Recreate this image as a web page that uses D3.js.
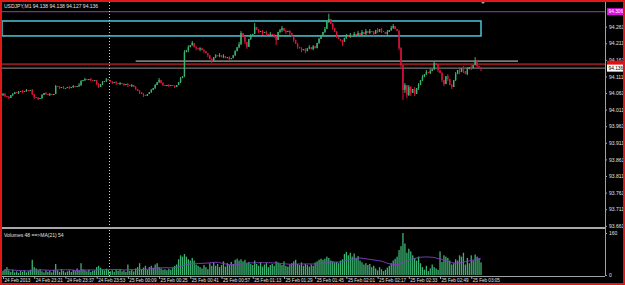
<!DOCTYPE html>
<html>
<head>
<meta charset="utf-8">
<script src="https://cdn.jsdelivr.net/npm/d3@7"></script>
<style>
  body { margin: 0; background: #000; }
  svg { display: block; font-family: "Liberation Sans", Arial, sans-serif; }
  .axis text { fill: #e0e0e0; font-size: 5px; }
  .axis path, .axis line { stroke: #a0a0a0; }
  .taxis text { font-size: 4.6px; }
</style>
</head>
<body>
<svg id="chart" width="625" height="285"></svg>
<script>
// USDJPY M1, one bar per minute from 24 Feb 23:05
const startTime = new Date(2013, 1, 24, 23, 5);

const closes = [
  94.058, 94.052, 94.049, 94.046, 94.055, 94.058, 94.064, 94.061, 94.064, 94.067,
  94.064, 94.067, 94.070, 94.067, 94.070, 94.058, 94.049, 94.046, 94.043, 94.046,
  94.055, 94.061, 94.058, 94.055, 94.058, 94.055, 94.058, 94.082, 94.079, 94.076,
  94.079, 94.076, 94.076, 94.079, 94.076, 94.079, 94.082, 94.079, 94.082, 94.085,
  94.097, 94.100, 94.103, 94.100, 94.103, 94.100, 94.097, 94.100, 94.088, 94.079,
  94.088, 94.094, 94.097, 94.103, 94.100, 94.094, 94.091, 94.094, 94.091, 94.088,
  94.091, 94.088, 94.085, 94.088, 94.085, 94.082, 94.085, 94.079, 94.073, 94.067,
  94.064, 94.058, 94.055, 94.052, 94.058, 94.064, 94.070, 94.076, 94.085, 94.094,
  94.100, 94.091, 94.085, 94.082, 94.085, 94.082, 94.085, 94.082, 94.079, 94.085,
  94.094, 94.106, 94.112, 94.184, 94.190, 94.199, 94.205, 94.212, 94.199, 94.196,
  94.193, 94.196, 94.190, 94.187, 94.181, 94.175, 94.163, 94.157, 94.169, 94.175,
  94.172, 94.175, 94.169, 94.172, 94.166, 94.169, 94.163, 94.166, 94.175, 94.187,
  94.199, 94.208, 94.242, 94.230, 94.215, 94.200, 94.224, 94.236, 94.239, 94.260,
  94.251, 94.245, 94.248, 94.242, 94.245, 94.239, 94.236, 94.239, 94.236, 94.233,
  94.221, 94.245, 94.251, 94.257, 94.248, 94.245, 94.248, 94.242, 94.230, 94.221,
  94.209, 94.200, 94.196, 94.190, 94.193, 94.187, 94.196, 94.199, 94.193, 94.202,
  94.196, 94.212, 94.224, 94.236, 94.245, 94.254, 94.275, 94.284, 94.269, 94.257,
  94.245, 94.230, 94.224, 94.218, 94.215, 94.227, 94.233, 94.230, 94.236, 94.233,
  94.239, 94.236, 94.242, 94.236, 94.245, 94.239, 94.248, 94.242, 94.248, 94.245,
  94.239, 94.251, 94.245, 94.254, 94.248, 94.245, 94.239, 94.245, 94.251, 94.257,
  94.263, 94.254, 94.248, 94.196, 94.145, 94.070, 94.085, 94.055, 94.079, 94.061,
  94.073, 94.058, 94.076, 94.085, 94.100, 94.109, 94.118, 94.124, 94.121, 94.127,
  94.133, 94.151, 94.145, 94.130, 94.121, 94.100, 94.088, 94.112, 94.103, 94.085,
  94.079, 94.100, 94.118, 94.130, 94.124, 94.136, 94.127, 94.118, 94.133, 94.139,
  94.136, 94.145, 94.157, 94.142, 94.138, 94.136
];

// bars with a visible wick: [bar, high, low]
const wicks = [
  [0, 94.061, 94.052], [1, 94.061, 94.049], [3, 94.052, 94.043], [5, 94.061, 94.052],
  [8, 94.067, 94.058], [10, 94.070, 94.061], [12, 94.073, 94.064], [15, 94.073, 94.055],
  [16, 94.058, 94.043], [18, 94.049, 94.040], [20, 94.058, 94.043], [22, 94.064, 94.055],
  [24, 94.061, 94.052], [27, 94.085, 94.058], [29, 94.082, 94.073], [31, 94.082, 94.073],
  [34, 94.082, 94.073], [36, 94.085, 94.076], [39, 94.091, 94.079], [40, 94.100, 94.082],
  [42, 94.106, 94.097], [45, 94.106, 94.097], [48, 94.100, 94.085], [49, 94.091, 94.076],
  [51, 94.097, 94.085], [53, 94.106, 94.094], [56, 94.097, 94.088], [58, 94.097, 94.085],
  [60, 94.094, 94.085], [62, 94.091, 94.082], [64, 94.091, 94.079], [66, 94.088, 94.079],
  [68, 94.082, 94.070], [70, 94.070, 94.058], [72, 94.061, 94.049], [76, 94.073, 94.061],
  [78, 94.088, 94.073], [80, 94.106, 94.091], [82, 94.094, 94.082], [85, 94.088, 94.079],
  [88, 94.085, 94.076], [91, 94.109, 94.091], [93, 94.190, 94.109], [95, 94.205, 94.184],
  [97, 94.218, 94.203], [99, 94.202, 94.190], [101, 94.199, 94.187], [103, 94.193, 94.181],
  [105, 94.181, 94.169], [107, 94.166, 94.151], [109, 94.178, 94.166], [111, 94.181, 94.169],
  [113, 94.178, 94.166], [116, 94.172, 94.160], [119, 94.190, 94.172], [121, 94.215, 94.196],
  [122, 94.248, 94.206], [124, 94.233, 94.209], [125, 94.215, 94.194], [127, 94.239, 94.221],
  [129, 94.272, 94.239], [131, 94.254, 94.242], [133, 94.251, 94.236], [135, 94.248, 94.233],
  [137, 94.245, 94.233], [139, 94.239, 94.227], [140, 94.233, 94.206], [142, 94.254, 94.242],
  [143, 94.263, 94.245], [145, 94.251, 94.239], [147, 94.251, 94.236], [149, 94.233, 94.215],
  [151, 94.212, 94.194], [153, 94.199, 94.184], [155, 94.196, 94.181], [157, 94.205, 94.193],
  [159, 94.205, 94.190], [162, 94.227, 94.209], [165, 94.260, 94.242], [167, 94.300, 94.272],
  [169, 94.272, 94.251], [171, 94.248, 94.227], [174, 94.221, 94.203], [176, 94.239, 94.224],
  [178, 94.242, 94.227], [180, 94.245, 94.230], [182, 94.248, 94.233], [184, 94.251, 94.233],
  [186, 94.254, 94.236], [188, 94.254, 94.239], [190, 94.248, 94.233], [192, 94.257, 94.242],
  [194, 94.257, 94.242], [197, 94.251, 94.236], [199, 94.263, 94.248], [200, 94.269, 94.254],
  [203, 94.251, 94.190], [204, 94.199, 94.139], [205, 94.145, 94.040], [206, 94.091, 94.061],
  [207, 94.085, 94.046], [208, 94.085, 94.052], [209, 94.082, 94.052], [211, 94.079, 94.052],
  [213, 94.091, 94.070], [215, 94.115, 94.097], [217, 94.130, 94.115], [219, 94.133, 94.118],
  [221, 94.157, 94.130], [223, 94.148, 94.124], [225, 94.124, 94.094], [226, 94.100, 94.082],
  [228, 94.118, 94.097], [230, 94.088, 94.073], [232, 94.124, 94.097], [234, 94.139, 94.118],
  [236, 94.142, 94.121], [238, 94.139, 94.115], [240, 94.145, 94.130], [242, 94.169, 94.145],
  [243, 94.160, 94.136], [245, 94.138, 94.127]
];

const volumes = [
  15, 22, 30, 18, 12, 20, 10, 14, 8, 16, 12, 18, 10, 14, 20,
  58, 30, 25, 18, 22,
  14, 10, 18, 12, 16, 10, 20,
  42,
  18, 12, 22, 16, 10, 14, 18, 12, 20, 15,
  25, 18,
  45, 22, 18, 14, 20, 12, 16, 18,
  30, 35, 28, 22, 18, 24, 20,
  14, 18, 12, 20, 16, 22, 14, 18, 12, 40, 16, 20, 14,
  25, 30, 45, 22, 28, 35, 20,
  30, 35, 28, 40, 45, 30,
  25, 20, 22, 18, 24, 20, 28, 35, 40,
  60, 75, 70, 80, 70, 60, 55, 65,
  55, 40, 35, 30, 25, 38, 30, 22,
  45, 35,
  48, 35, 42, 30, 38, 52, 32, 45, 38, 50, 42, 58, 62, 55,
  60,
  52, 58, 45, 50, 42, 38,
  55, 42, 35, 48, 32, 40, 45, 30, 38, 42, 35,
  52,
  48, 42, 38, 52, 35, 32, 40,
  45, 52, 58, 42, 38, 48, 35, 42, 38,
  32, 40, 35, 48, 52, 58, 62,
  58, 62, 70, 65, 55, 52, 48, 50, 45, 55, 60,
  80, 88, 75, 85, 70, 82, 65, 72,
  55, 48, 40, 45, 38, 42, 30, 35,
  25, 18, 30, 22, 15, 20, 28, 35, 45,
  55, 62, 70,
  95, 110, 160,
  120, 85, 100, 90,
  75, 65, 55, 70,
  45, 30, 20, 35, 15, 25, 40,
  30, 25,
  20, 90, 50, 75,
  70, 65, 55, 40,
  45, 60, 55, 75, 70, 85,
  40, 65, 45, 75, 55, 78, 70, 62, 48
];

const priceTicks = [94.261, 94.211, 94.161, 94.111, 94.061, 94.011, 93.961,
                    93.911, 93.861, 93.811, 93.761, 93.711, 93.661];
const timeTickLabels = ["24 Feb 2013", "24 Feb 23:21", "24 Feb 23:37", "24 Feb 23:53",
  "25 Feb 00:09", "25 Feb 00:25", "25 Feb 00:41", "25 Feb 00:57", "25 Feb 01:13",
  "25 Feb 01:29", "25 Feb 01:45", "25 Feb 02:01", "25 Feb 02:17", "25 Feb 02:33",
  "25 Feb 02:49", "25 Feb 03:05"];

const levelMagenta = 94.306;
const zoneTop = 94.278, zoneBottom = 94.233;
const levelRed = 94.148;
const levelGray = 94.157;
const bidPrice = 94.136;
const volumeTicks = [160, 0];

// build bars
const minute = 60000;
let bars = closes.map((c, i) => {
    let o = i == 0 ? 94.055 : closes[i - 1];
    return {time: new Date(startTime.getTime() + i * minute), open: o, close: c,
            high: Math.max(o, c), low: Math.min(o, c), volume: volumes[i]};
});
wicks.forEach(w => { bars[w[0]].high = w[1]; bars[w[0]].low = w[2]; });
bars[245].open = 94.138;

// MA(21) of volume
bars.forEach((b, i) => {
    let win = volumes.slice(Math.max(0, i - 20), i + 1);
    b.ma = d3.mean(win);
});

const svg = d3.select("#chart");
svg.append("rect").attr("width", 625).attr("height", 285).attr("fill", "#000");

const x = d3.scaleTime()
    .domain([startTime, bars[bars.length - 1].time])
    .range([3, 481]);
const y = d3.scaleLinear().domain([93.661, 94.306]).range([225.8, 11.7]);
const vy = d3.scaleLinear().domain([0, 160]).range([275, 233]);

const axisX = 605;

// horizontal levels
svg.append("line").attr("x1", 2).attr("x2", axisX).attr("y1", y(levelMagenta)).attr("y2", y(levelMagenta))
    .attr("stroke", "#9a3cb4").attr("stroke-width", 1);
svg.append("rect").attr("x", 2).attr("y", y(zoneTop)).attr("width", x(bars[245].time) - 2)
    .attr("height", y(zoneBottom) - y(zoneTop))
    .attr("fill", "none").attr("stroke", "#4cc6d4").attr("stroke-width", 1.5);
svg.append("line").attr("x1", 2).attr("x2", axisX).attr("y1", y(levelRed)).attr("y2", y(levelRed))
    .attr("stroke", "#8b1c1c").attr("stroke-width", 2);
svg.append("line").attr("x1", x(bars[68].time)).attr("x2", 518)
    .attr("y1", y(levelGray)).attr("y2", y(levelGray))
    .attr("stroke", "#7a7a7a").attr("stroke-width", 1.6);
svg.append("line").attr("x1", 2).attr("x2", axisX).attr("y1", y(bidPrice)).attr("y2", y(bidPrice))
    .attr("stroke", "#b4b4b4").attr("stroke-width", 0.8);

// vertical dotted separator
svg.append("line").attr("x1", 109.5).attr("x2", 109.5).attr("y1", 2).attr("y2", 277)
    .attr("stroke", "#d0d0d0").attr("stroke-width", 1).attr("stroke-dasharray", "1,2");

// candles
let candles = svg.append("g").selectAll("g").data(bars).enter().append("g");
candles.append("line")
    .attr("x1", d => x(d.time)).attr("x2", d => x(d.time))
    .attr("y1", d => y(d.high)).attr("y2", d => y(d.low))
    .attr("stroke", d => d.close >= d.open ? "#3cb371" : "#dc143c")
    .attr("stroke-width", 1);
candles.append("rect")
    .attr("x", d => x(d.time) - 0.7).attr("width", 1.4)
    .attr("y", d => y(Math.max(d.open, d.close)))
    .attr("height", d => Math.max(1, Math.abs(y(d.open) - y(d.close))))
    .attr("fill", d => d.close >= d.open ? "#3cb371" : "#dc143c");

// volume bars
svg.append("g").selectAll("rect").data(bars).enter().append("rect")
    .attr("x", d => x(d.time) - 0.65).attr("width", 1.3)
    .attr("y", d => vy(d.volume)).attr("height", d => vy(0) - vy(d.volume))
    .attr("fill", "#3cb371");

svg.append("path").datum(bars)
    .attr("d", d3.line().x(d => x(d.time)).y(d => vy(d.ma)).curve(d3.curveMonotoneX))
    .attr("fill", "none").attr("stroke", "#7b3cc0").attr("stroke-width", 1);

// panel frame lines
svg.append("line").attr("x1", 2).attr("x2", axisX).attr("y1", 228).attr("y2", 228)
    .attr("stroke", "#a8a8a8").attr("stroke-width", 2);
svg.append("line").attr("x1", 2).attr("x2", axisX).attr("y1", 276.5).attr("y2", 276.5)
    .attr("stroke", "#a0a0a0").attr("stroke-width", 1);

// price axis
svg.append("g").attr("class", "axis").attr("transform", `translate(${axisX},0)`)
    .call(d3.axisRight(y).tickValues(priceTicks).tickSize(2).tickFormat(d3.format(".3f")))
    .call(g => g.select(".domain").attr("d", "M0.5,2V276"))
    .selectAll("text").attr("x", 4).attr("dy", "0.35em");

// volume axis
svg.append("g").attr("class", "axis").attr("transform", `translate(${axisX},0)`)
    .call(d3.axisRight(vy).tickValues(volumeTicks).tickSize(2))
    .call(g => g.select(".domain").remove())
    .selectAll("text").attr("x", 4).attr("dy", "0.35em");

// price tags on the axis
function tag(price, bg, fg, label) {
    svg.append("rect").attr("x", axisX + 2).attr("y", y(price) - 3.5).attr("width", 17).attr("height", 7)
        .attr("fill", bg);
    if (label) {
        svg.append("text").attr("x", axisX + 3.5).attr("y", y(price)).attr("dy", "0.35em")
            .attr("font-size", 4.8).attr("fill", fg).text(label);
    }
}
tag(levelMagenta, "#e010e0", "#ffffff", "94.306");
tag(levelRed, "#e01010", "#ffffff", null);
tag(bidPrice, "#ffffff", "#000000", "94.136");

// time axis
const timeTicks = timeTickLabels.map((t, i) => bars[i * 16].time);
svg.append("g").attr("class", "axis taxis").attr("transform", "translate(0,277)")
    .call(d3.axisBottom(x).tickValues(timeTicks).tickSize(2)
        .tickFormat((d, i) => timeTickLabels[i]))
    .call(g => g.select(".domain").remove())
    .selectAll("text").attr("text-anchor", "start").attr("x", 1).attr("y", 2).attr("dy", "0.71em");

// titles
svg.append("text").attr("x", 4).attr("y", 8).attr("font-size", 5).attr("fill", "#e0e0e0")
    .text("USDJPY,M1  94.138 94.138 94.127 94.136");
svg.append("text").attr("x", 4).attr("y", 237).attr("font-size", 5).attr("fill", "#e0e0e0")
    .text("Volumes 48  ==>MA(21) 54");

// shift marker
svg.append("path").attr("d", "M480,1 L486,1 L483,4 Z").attr("fill", "#a0a0a0");

// outer red frame
svg.append("rect").attr("x", 1).attr("y", 1).attr("width", 623).attr("height", 283)
    .attr("fill", "none").attr("stroke", "#e01818").attr("stroke-width", 2);
</script>
</body>
</html>
